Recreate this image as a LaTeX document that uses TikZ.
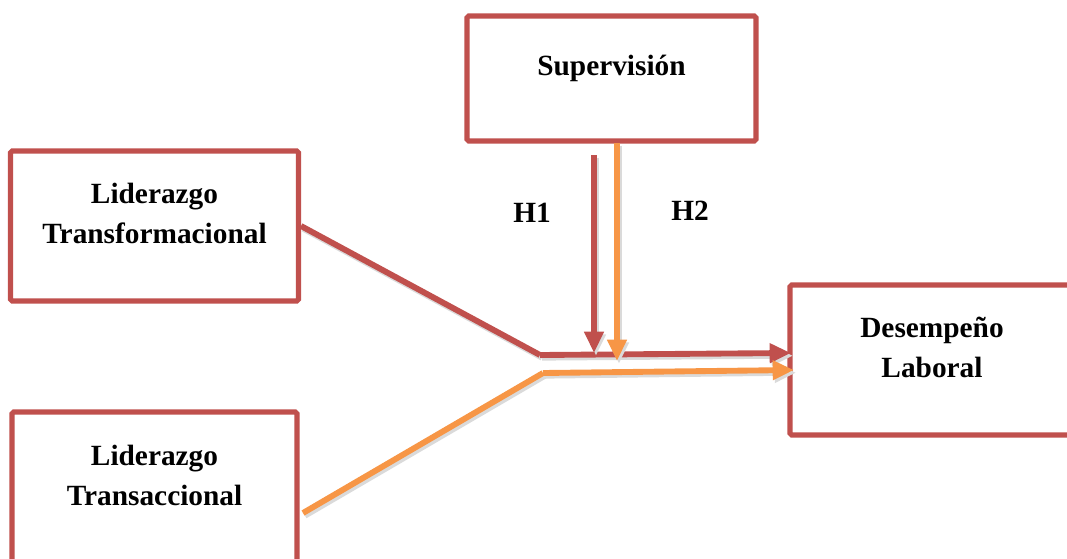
\documentclass[tikz,border=0pt]{standalone}
\usepackage{fontspec}
\setmainfont{Liberation Serif}
\usetikzlibrary{arrows.meta}
\definecolor{boxred}{HTML}{C0504D}
\definecolor{linkorange}{HTML}{F79646}
\definecolor{shade}{HTML}{DADADA}
\tikzset{
  varbox/.style={draw=boxred, line width=3.8pt, rounded corners=1.2pt, fill=white, inner sep=0pt},
  label/.style={align=center, font=\fontsize{22}{30}\selectfont\bfseries},
  shadowed/.style={preaction={draw=shade, line width=4.4pt, transform canvas={shift={(1.5pt,-2pt)}}}},
  redlink/.style={draw=boxred, line width=4.4pt, shadowed},
  orangelink/.style={draw=linkorange, line width=4.4pt, shadowed},
  tip/.style={-{Triangle[length=16pt,width=14pt]}},
  hyp/.style={font=\fontsize{22}{26}\selectfont\bfseries}
}
\begin{document}
\begin{tikzpicture}[x=0.75pt,y=-0.75pt]
  \useasboundingbox (0,0) rectangle (1067,558);
  \clip (0,0) rectangle (1067,558);

  % variable boxes
  \node[varbox, minimum width=216.75pt, minimum height=93.75pt] (sup) at (611.5,78.5) {};
  \node[label] (suptext) at (611.5,68) {Supervisión};

  \node[varbox, minimum width=216pt, minimum height=112.5pt] (ltf) at (154.5,226) {};
  \node[label] (ltftext) at (154.5,213) {Liderazgo\\Transformacional};

  \node[varbox, minimum width=213.75pt, minimum height=112.5pt] (ltr) at (154.5,487) {};
  \node[label] (ltrtext) at (154.5,475) {Liderazgo\\Transaccional};

  \node[varbox, minimum width=216pt, minimum height=112.5pt] (des) at (934,360) {};
  \node[label] (destext) at (932,347) {Desempeño\\Laboral};

  % junction points
  \coordinate (jr) at (540,355);
  \coordinate (jo) at (543,373);
  \coordinate (lo) at (303,513);
  \coordinate (rs) at (594,155);
  \coordinate (re) at (594,353);
  \coordinate (os) at (617,143);
  \coordinate (oe) at (617,361);
  \coordinate (rd) at (791,353);
  \coordinate (od) at (794,370);

  % connectors
  \draw[redlink] (ltf.east) -- (jr);
  \draw[redlink, tip] (jr) -- (rd);
  \draw[orangelink] (lo) -- (jo);
  \draw[orangelink, tip] (jo) -- (od);
  \draw[redlink, tip] (rs) -- (re);
  \draw[orangelink, tip] (os) -- (oe);

  % hypothesis labels
  \node[hyp] (h1) at (532,213) {H1};
  \node[hyp] (h2) at (690,211) {H2};
\end{tikzpicture}
\end{document}
